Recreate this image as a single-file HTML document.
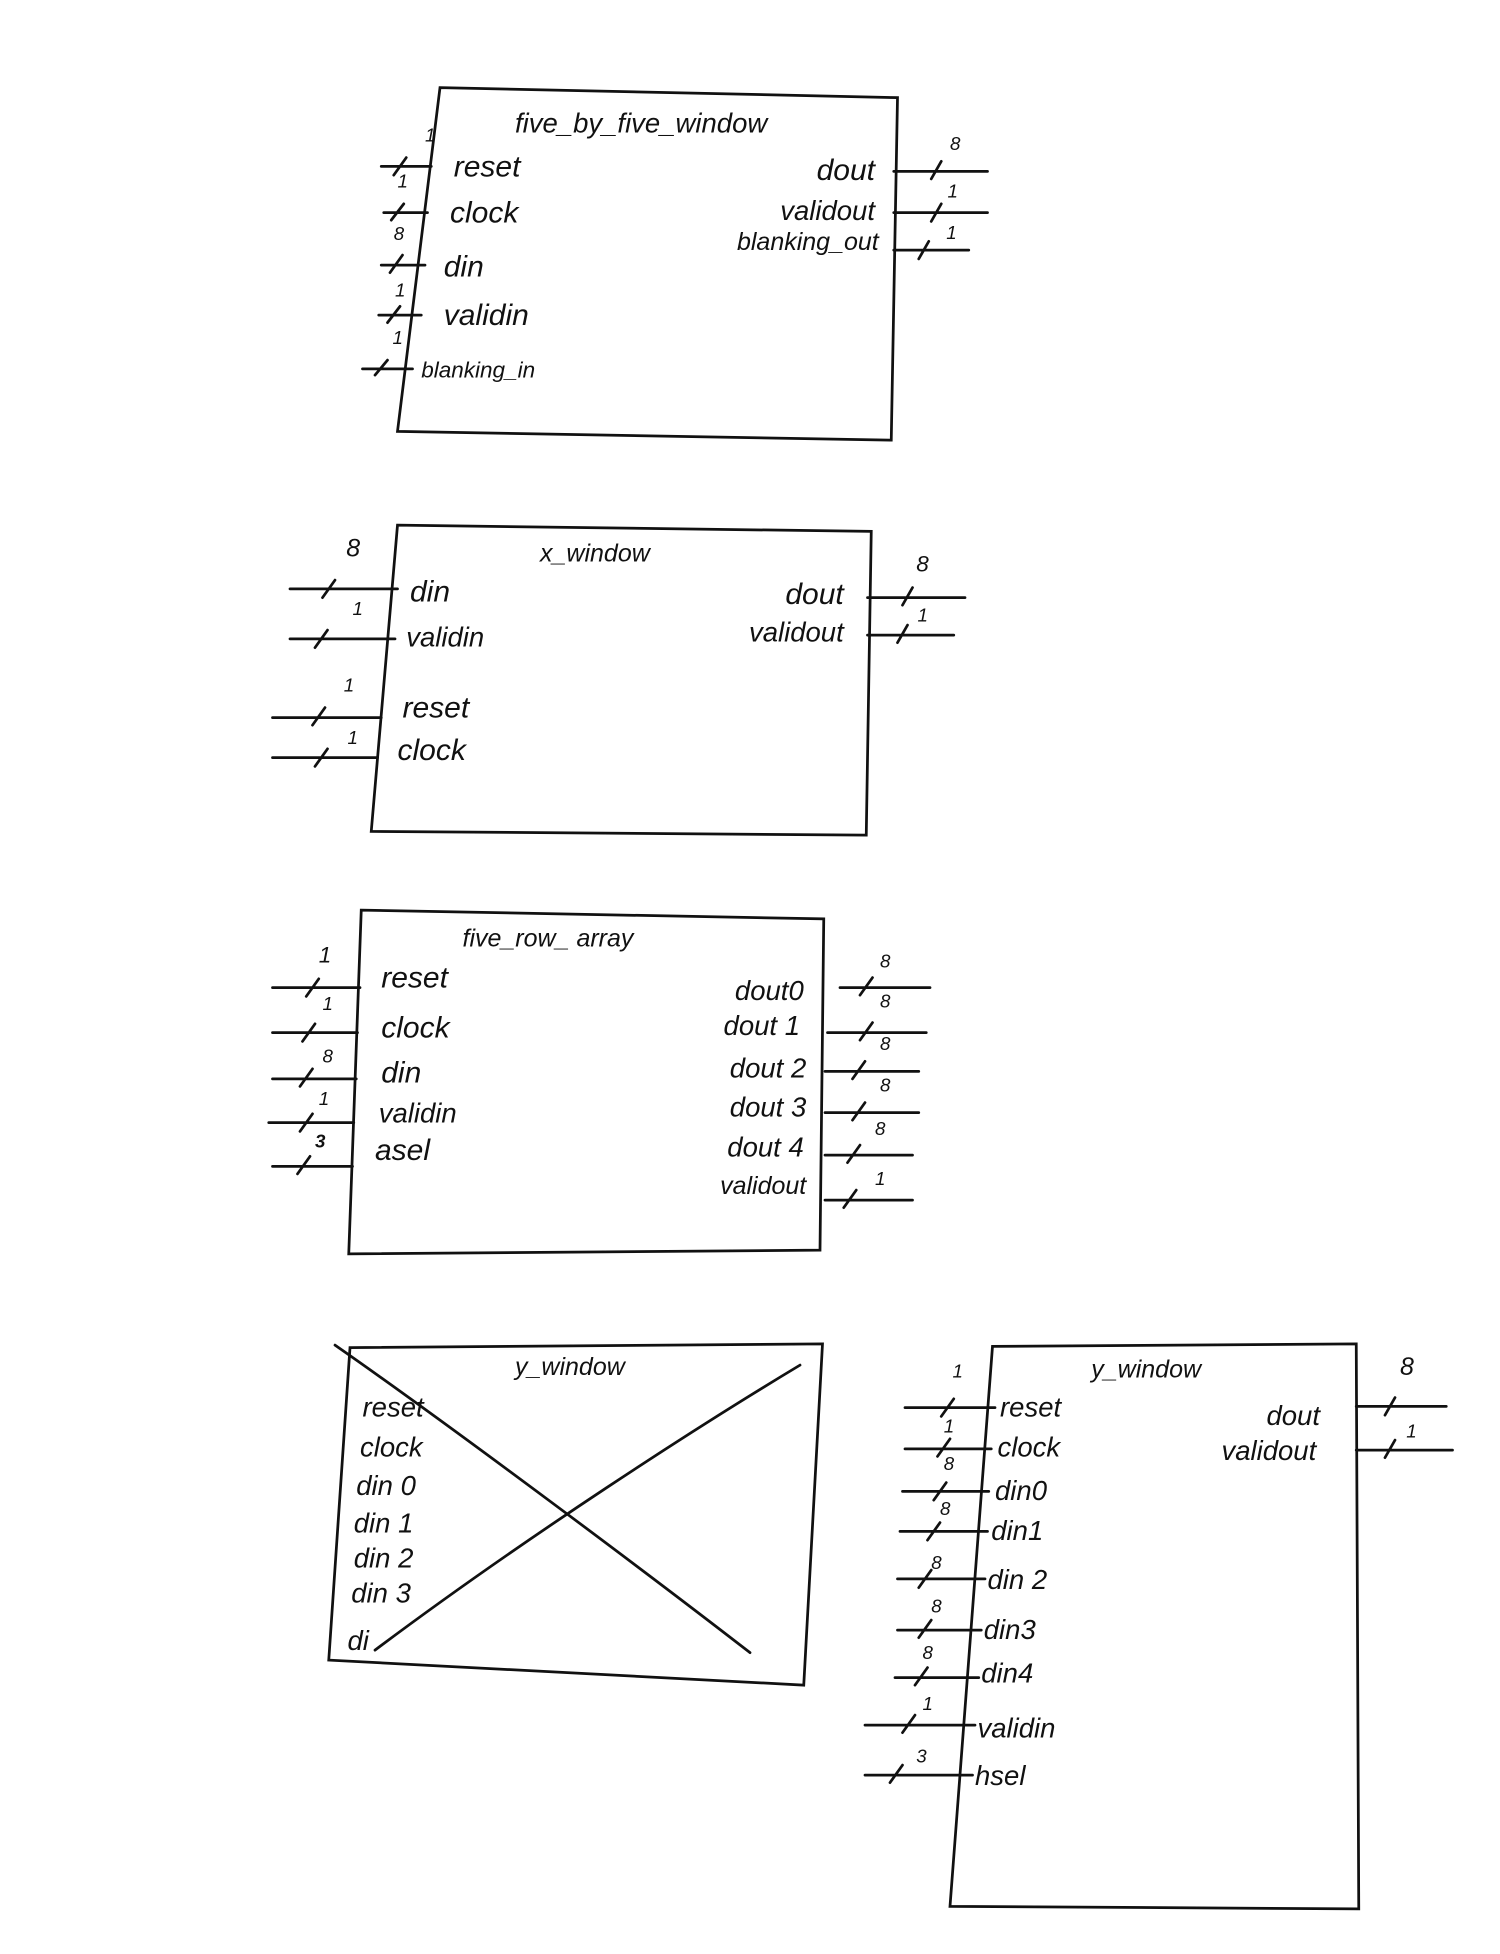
<!DOCTYPE html>
<html><head><meta charset="utf-8"><style>
html,body{margin:0;padding:0;background:#fff}
svg{display:block}
text{font-family:"Liberation Sans",sans-serif;font-style:italic;fill:#111}
</style></head><body>
<svg width="1500" height="1954" viewBox="0 0 1200 1563" xmlns="http://www.w3.org/2000/svg">
<g fill="none" stroke="#111" stroke-width="2.2" stroke-linecap="round">
<!-- box1 -->
<polygon points="352,70 718,78 713,352 318,345"/>
<!-- box2 -->
<polygon points="318,420 697,425 693,668 297,665"/>
<!-- box3 -->
<polygon points="289,728 659,735 656,1000 279,1003"/>
<!-- box4 -->
<polygon points="280,1078 658,1075 643,1348 263,1328"/>
<path d="M268,1076 C360,1140 520,1260 600,1322"/>
<path d="M300,1320 C420,1230 560,1140 640,1092"/>
<!-- box5 -->
<polygon points="794,1077 1085,1075 1087,1527 760,1525"/>

<!-- box1 pins -->
<path d="M305,133H345 M315,140l10,-14 M307,170H342 M313,176l10,-13 M305,212H340 M312,218l10,-14 M303,252H337 M310,258l10,-13 M290,295H330 M300,300l10,-12"/>
<path d="M715,137H790 M745,143l8,-14 M715,170H790 M745,177l8,-14 M715,200H775 M735,207l8,-14"/>
<!-- box2 pins -->
<path d="M232,471H318 M258,478l10,-14 M232,511H316 M252,518l10,-14 M218,574H305 M250,580l10,-14 M218,606H302 M252,613l10,-14"/>
<path d="M694,478H772 M722,484l8,-14 M694,508H763 M718,514l8,-14"/>
<!-- box3 pins -->
<path d="M218,790H288 M245,797l10,-14 M218,826H286 M242,833l10,-14 M218,863H285 M240,869l10,-14 M215,898H283 M240,905l10,-14 M218,933H282 M238,939l10,-14"/>
<path d="M672,790H744 M688,796l10,-14 M662,826H741 M688,832l10,-14 M660,857H735 M682,863l10,-14 M660,890H735 M682,896l10,-14 M660,924H730 M678,930l10,-14 M660,960H730 M675,966l10,-14"/>
<!-- box5 pins -->
<path d="M724,1126H796 M753,1133l10,-14 M724,1159H793 M750,1165l10,-14 M722,1193H791 M747,1200l10,-14 M720,1225H790 M742,1232l10,-14 M718,1263H788 M735,1270l10,-14 M718,1304H785 M735,1310l10,-14 M716,1342H783 M732,1348l10,-14 M692,1380H780 M722,1386l10,-14 M692,1420H778 M712,1426l10,-14"/>
<path d="M1085,1125H1157 M1108,1132l8,-14 M1085,1160H1162 M1108,1166l8,-14"/>
</g>
<g font-size="24">
<text x="412" y="106" font-size="22">five_by_five_window</text>
<text x="363" y="141">reset</text>
<text x="360" y="178">clock</text>
<text x="355" y="221">din</text>
<text x="355" y="260">validin</text>
<text x="337" y="302" font-size="18">blanking_in</text>
<text x="700" y="144" text-anchor="end">dout</text>
<text x="700" y="176" text-anchor="end" font-size="22">validout</text>
<text x="703" y="200" text-anchor="end" font-size="20">blanking_out</text>
<text x="432" y="449" font-size="20">x_window</text>
<text x="328" y="481">din</text>
<text x="325" y="517" font-size="22">validin</text>
<text x="322" y="574">reset</text>
<text x="318" y="608">clock</text>
<text x="675" y="483" text-anchor="end">dout</text>
<text x="675" y="513" text-anchor="end" font-size="22">validout</text>
<text x="370" y="757" font-size="20">five_row_ array</text>
<text x="305" y="790">reset</text>
<text x="305" y="830">clock</text>
<text x="305" y="866">din</text>
<text x="303" y="898" font-size="22">validin</text>
<text x="300" y="928">asel</text>
<text x="643" y="800" text-anchor="end" font-size="22">dout0</text>
<text x="640" y="828" text-anchor="end" font-size="22">dout 1</text>
<text x="645" y="862" text-anchor="end" font-size="22">dout 2</text>
<text x="645" y="893" text-anchor="end" font-size="22">dout 3</text>
<text x="643" y="925" text-anchor="end" font-size="22">dout 4</text>
<text x="645" y="955" text-anchor="end" font-size="20">validout</text>
<text x="412" y="1100" font-size="20">y_window</text>
<text x="290" y="1133" font-size="22">reset</text>
<text x="288" y="1165" font-size="22">clock</text>
<text x="285" y="1196" font-size="22">din 0</text>
<text x="283" y="1226" font-size="22">din 1</text>
<text x="283" y="1254" font-size="22">din 2</text>
<text x="281" y="1282" font-size="22">din 3</text>
<text x="278" y="1320" font-size="22">di</text>
<text x="873" y="1102" font-size="20">y_window</text>
<text x="800" y="1133" font-size="22">reset</text>
<text x="798" y="1165" font-size="22">clock</text>
<text x="796" y="1200" font-size="22">din0</text>
<text x="793" y="1232" font-size="22">din1</text>
<text x="790" y="1271" font-size="22">din 2</text>
<text x="787" y="1311" font-size="22">din3</text>
<text x="785" y="1346" font-size="22">din4</text>
<text x="782" y="1390" font-size="22">validin</text>
<text x="780" y="1428" font-size="22">hsel</text>
<text x="1056" y="1140" text-anchor="end" font-size="22">dout</text>
<text x="1053" y="1168" text-anchor="end" font-size="22">validout</text>
</g>
<g font-size="15">
<text x="340" y="113">1</text><text x="318" y="150">1</text><text x="315" y="192">8</text><text x="316" y="237">1</text><text x="314" y="275">1</text>
<text x="760" y="120">8</text><text x="758" y="158">1</text><text x="757" y="191">1</text>
<text x="277" y="445" font-size="20">8</text><text x="282" y="492">1</text><text x="275" y="553">1</text><text x="278" y="595">1</text>
<text x="733" y="457" font-size="18">8</text><text x="734" y="497">1</text>
<text x="255" y="770" font-size="18">1</text><text x="258" y="808">1</text><text x="258" y="850">8</text><text x="255" y="884">1</text><text x="252" y="918" font-weight="bold">3</text>
<text x="704" y="774">8</text><text x="704" y="806">8</text><text x="704" y="840">8</text><text x="704" y="873">8</text><text x="700" y="908">8</text><text x="700" y="948">1</text>
<text x="762" y="1102">1</text><text x="755" y="1146">1</text><text x="755" y="1176">8</text><text x="752" y="1212">8</text><text x="745" y="1255">8</text><text x="745" y="1290">8</text><text x="738" y="1327">8</text><text x="738" y="1368">1</text><text x="733" y="1410">3</text>
<text x="1120" y="1100" font-size="20">8</text><text x="1125" y="1150">1</text>
</g>
</svg>
</body></html>
